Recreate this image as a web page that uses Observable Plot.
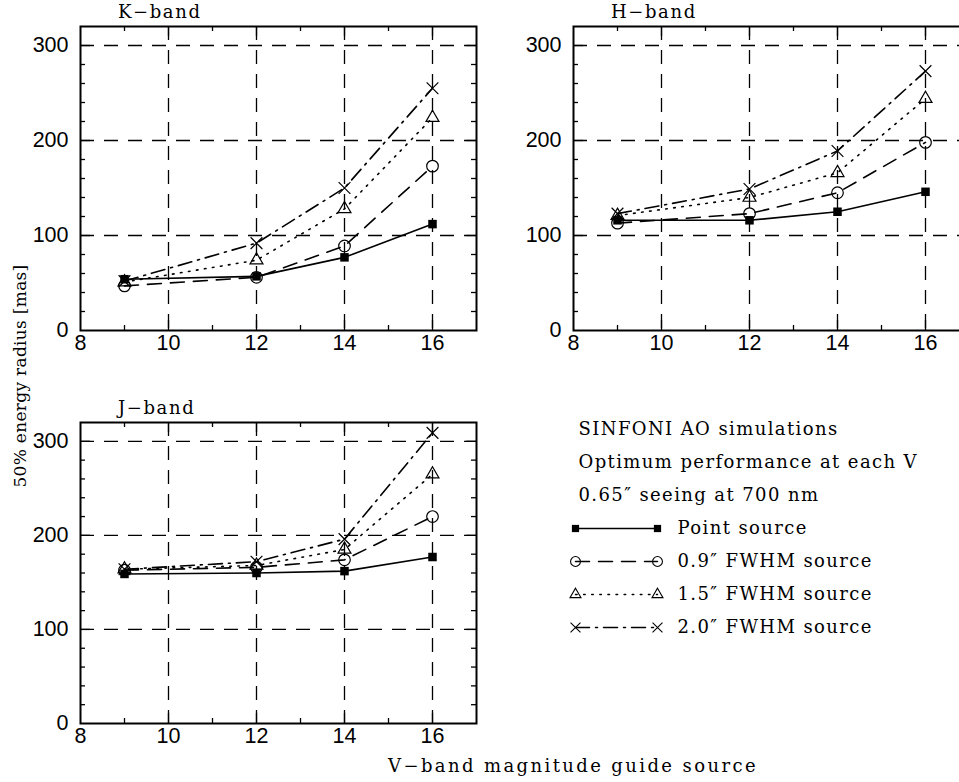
<!DOCTYPE html>
<html><head><meta charset="utf-8">
<script src="https://cdn.jsdelivr.net/npm/d3@7"></script>
<script src="https://cdn.jsdelivr.net/npm/@observablehq/plot@0.6"></script>
<style>
html,body{margin:0;padding:0;background:#fff;overflow:hidden;}
#wrap{position:relative;width:959px;height:782px;overflow:hidden;background:#fff;}
.lbl{font-family:"DejaVu Serif";font-size:18px;letter-spacing:2.4px;color:#000;white-space:nowrap;line-height:1;}
svg{overflow:visible;}
svg.panelplot text{font-family:"Liberation Sans" !important;font-size:21.5px !important;}
</style></head><body><div id="wrap"></div>
<script>
// ---- data ----
const magnitudes = [9, 12, 14, 16];
const sources = ["Point source", "0.9\u2033 FWHM source", "1.5\u2033 FWHM source", "2.0\u2033 FWHM source"];
const kPoint  = [54, 57, 77, 112];
const kFwhm09 = [47, 56, 89, 173];
const kFwhm15 = [51, 74, 128, 224];
const kFwhm20 = [52, 92, 150, 255];
const hPoint  = [116, 116, 125, 146];
const hFwhm09 = [113, 123, 145, 198];
const hFwhm15 = [121, 140, 166, 244];
const hFwhm20 = [123, 149, 189, 273];
const jPoint  = [159, 160, 162, 177];
const jFwhm09 = [163, 166, 174, 220];
const jFwhm15 = [164, 168, 185, 265];
const jFwhm20 = [164, 172, 196, 309];
const xTickLabels = [8, 10, 12, 14, 16];
const yTickLabels = [0, 100, 200, 300];
const xGrid = [10, 12, 14, 16];
const yGrid = [100, 200, 300];
const xMinor = [9, 11, 13, 15];
const yMinor = [20, 40, 60, 80, 120, 140, 160, 180, 220, 240, 260, 280];
const headerLines = ["SINFONI AO simulations", "Optimum performance at each V", "0.65\u2033 seeing at 700 nm"];

// ---- styles ----
const seriesStyle = [
  {symbol: "square",   r: 4.8, fill: "black", stroke: "none",  dash: null},
  {symbol: "circle",   r: 5.8, fill: "none",  stroke: "black", dash: "14,9"},
  {symbol: "triangle", r: 4.8, fill: "none",  stroke: "black", dash: "1.6,6.5"},
  {symbol: "times",    r: 5.4, fill: "none",  stroke: "black", dash: "14,6,2,6"}
];

const wrap = document.getElementById("wrap");
function place(el, left, top) {
  el.style.position = "absolute"; el.style.left = left + "px"; el.style.top = top + "px";
  wrap.appendChild(el);
}
function label(text, left, top, extra) {
  const d = document.createElement("div");
  d.className = "lbl"; d.textContent = text;
  if (extra) Object.assign(d.style, extra);
  place(d, left, top);
  return d;
}

function panel(title, series, left, top, height) {
  const mT = 26, mB = 30, mL = 80, mR = 14;
  const fh = height - mT - mB;
  const fw = 490 - mL - mR;
  const line = {stroke: "black", strokeWidth: 1.3};
  const marks = [
    Plot.ruleX(xGrid, {x: d => d, ...line, strokeDasharray: "14,10"}),
    Plot.ruleY(yGrid, {y: d => d, ...line, strokeDasharray: "14,10"}),
    // inward ticks
    Plot.tickX(xGrid, {x: d => d, insetTop: fh - 10, ...line}),
    Plot.tickX(xGrid, {x: d => d, insetBottom: fh - 10, ...line}),
    Plot.tickX(xMinor, {x: d => d, insetTop: fh - 5, ...line}),
    Plot.tickX(xMinor, {x: d => d, insetBottom: fh - 5, ...line}),
    Plot.tickY(yGrid, {y: d => d, insetRight: fw - 10, ...line}),
    Plot.tickY(yGrid, {y: d => d, insetLeft: fw - 10, ...line}),
    Plot.tickY(yMinor, {y: d => d, insetRight: fw - 5, ...line}),
    Plot.tickY(yMinor, {y: d => d, insetLeft: fw - 5, ...line}),
  ];
  series.forEach((vals, si) => {
    const st = seriesStyle[si];
    const rows = vals.map((v, i) => ({mag: magnitudes[i], r: v}));
    marks.push(Plot.line(rows, {x: "mag", y: "r", stroke: "black", strokeWidth: 1.6,
      strokeDasharray: st.dash}));
    marks.push(Plot.dot(rows, {x: "mag", y: "r", symbol: st.symbol, r: st.r,
      fill: st.fill, stroke: st.stroke, strokeWidth: 1.2}));
  });
  marks.push(Plot.frame({stroke: "black", strokeWidth: 2}));
  marks.push(Plot.axisX(xTickLabels, {tickSize: 0, tickPadding: 4, label: null}));
  marks.push(Plot.axisY(yTickLabels, {tickSize: 0, tickPadding: 12, label: null}));
  const svg = Plot.plot({
    width: 490, height, marginTop: mT, marginBottom: mB, marginLeft: mL, marginRight: mR,
    className: "panelplot",
    x: {domain: [8, 17]},
    y: {domain: [0, 320]},
    style: {background: "transparent", color: "black"},
    marks
  });
  svg.classList.add("panelplot");
  place(svg, left, top);
  label(title, left + 118, top + 3, {letterSpacing: "1.6px", fontWeight: "500"});
}

panel("K\u2212band", [kPoint, kFwhm09, kFwhm15, kFwhm20], 0, 0, 360);
panel("H\u2212band", [hPoint, hFwhm09, hFwhm15, hFwhm20], 493, 0, 360);
panel("J\u2212band", [jPoint, jFwhm09, jFwhm15, jFwhm20], 0, 396, 357);

// legend
const legendRows = ["h0", "h1", "h2", ...sources];
const legendMarks = [
  Plot.text(headerLines, {x: 0, y: (d, i) => legendRows[i], text: d => d, textAnchor: "start", dx: 3}),
  Plot.text(sources, {x: 1, y: d => d, text: d => d, textAnchor: "start", dx: 20})
];
sources.forEach((s, si) => {
  const st = seriesStyle[si];
  const rows = [0, 1].map(x => ({x, y: s}));
  legendMarks.push(Plot.line(rows, {x: "x", y: "y", stroke: "black", strokeWidth: 1.5, strokeDasharray: st.dash}));
  legendMarks.push(Plot.dot(rows, {x: "x", y: "y", symbol: st.symbol, r: st.r * 0.85,
    fill: st.fill, stroke: st.stroke, strokeWidth: 1.1}));
});
const legend = Plot.plot({
  width: 400, height: 250, margin: 0,
  x: {domain: [0, 1], range: [15, 97], axis: null},
  y: {type: "point", domain: legendRows, range: [28, 228], padding: 0, axis: null},
  style: {background: "transparent", color: "black", fontFamily: "DejaVu Serif", fontSize: "18px", letterSpacing: "1.4px"},
  marks: legendMarks
});
place(legend, 560, 400);

// axis labels
label("V\u2212band magnitude guide source", 388, 757);
label("50% energy radius [mas]", 20, 376,
  {letterSpacing: "0.3px", fontSize: "17px", transform: "translate(-50%,-50%) rotate(-90deg)", transformOrigin: "center"});
</script>
</body></html>
